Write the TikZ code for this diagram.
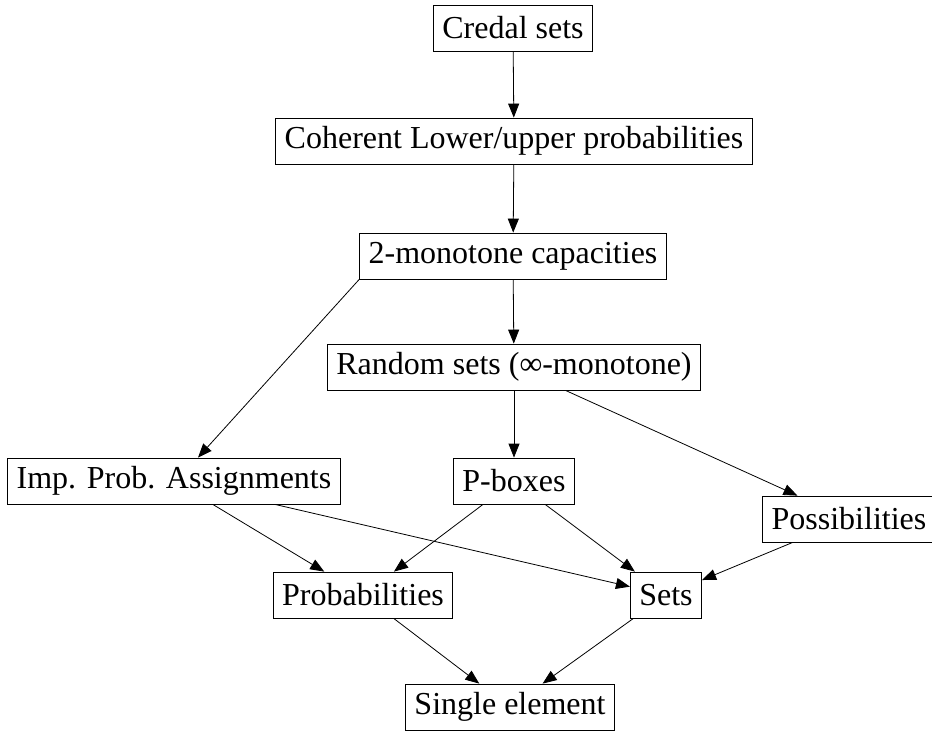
\documentclass[tikz,border=0pt]{standalone}
\usepackage{fontspec}
\setmainfont{Liberation Serif}
\usetikzlibrary{arrows.meta}
\tikzset{
    box/.style={draw, line width=0.8pt, inner xsep=9pt, inner ysep=0pt, minimum height=46pt,
        font=\fontsize{32}{38}\selectfont},
    edge/.style={line width=0.8pt, -{Triangle[length=14pt,width=11pt]}}
}
\begin{document}
\begin{tikzpicture}[x=1pt, y=-1pt]
            \useasboundingbox (0,0) rectangle (932,736);
            \node[box] (credal) at (513,28) {Credal sets};
            \node[box] (coherent) at (514,141) {Coherent Lower/upper probabilities};
            \node[box] (twomono) at (513,256) {2-monotone capacities};
            \node[box] (random) at (514,367) {Random sets (∞-monotone)};
            \node[box] (imp) at (174,481) {Imp. Prob. Assignments};
            \node[box] (pbox) at (514,481) {P-boxes};
            \node[box] (poss) at (849,519) {Possibilities};
            \node[box] (prob) at (363,595) {Probabilities};
            \node[box] (sets) at (666,595) {Sets};
            \node[box] (single) at (510,707) {Single element};
            \draw[edge] (credal) -- (coherent);
            \draw[edge] (coherent) -- (twomono);
            \draw[edge] (twomono) -- (random);
            \draw[edge] (twomono.south west) -- ([xshift=24pt]imp.north);
            \draw[edge] (random) -- (pbox);
            \draw[edge] (random) -- (poss);
            \draw[edge] (imp) -- (prob);
            \draw[edge] (imp) -- (sets);
            \draw[edge] (pbox) -- (prob);
            \draw[edge] (pbox) -- (sets);
            \draw[edge] (poss) -- (sets);
            \draw[edge] (prob) -- (single);
            \draw[edge] (sets) -- (single);
        \end{tikzpicture}
\end{document}
